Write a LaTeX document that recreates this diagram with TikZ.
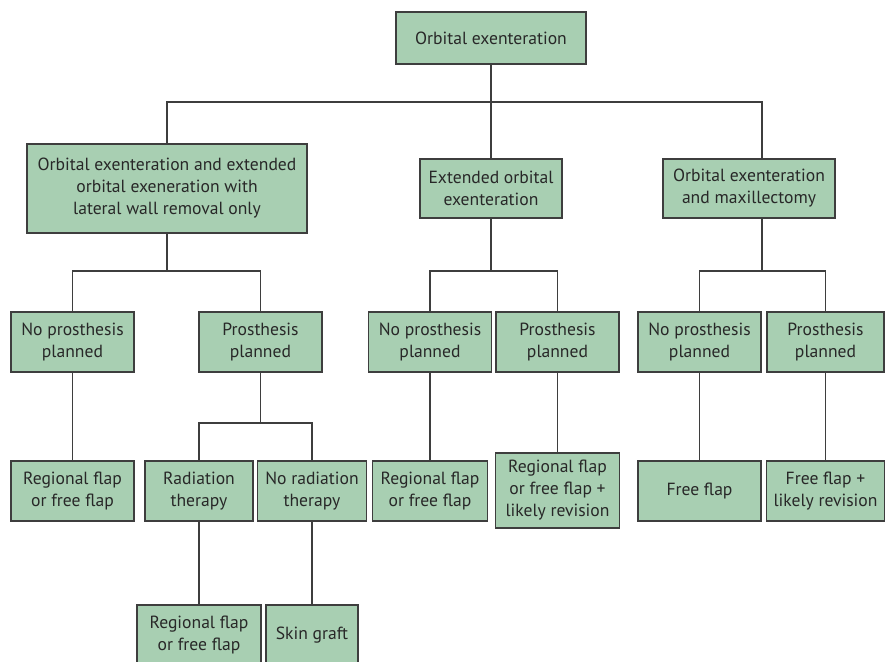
\documentclass[tikz,border=0pt]{standalone}
\usepackage{fontspec}
\setmainfont{PT Sans}
\usetikzlibrary{positioning}
\usepackage{xcolor}

\definecolor{boxgreen}{RGB}{168,207,178}
\definecolor{edgegray}{RGB}{62,62,62}
\definecolor{textgray}{RGB}{40,40,40}

\begin{document}
\begin{tikzpicture}[x=1pt,y=-1pt,
		box/.style={draw=edgegray, line width=1.6pt, fill=boxgreen, align=center, inner sep=0pt,
			text=textgray, font=\fontsize{17.6}{22}\selectfont},
		link/.style={draw=edgegray, line width=1.6pt}]
		\useasboundingbox (0,0) rectangle (885,661);

		% Top of the tree
		\node[box, minimum width=190, minimum height=52] (root) at (491,38) {Orbital exenteration};

		% Type of resection
		\node[box, minimum width=280, minimum height=89] (ext) at (167,188.5) {Orbital exenteration and extended\\orbital exeneration with\\lateral wall removal only};
		\node[box, minimum width=142, minimum height=59] (eoe) at (491,188.5) {Extended orbital\\exenteration};
		\node[box, minimum width=172, minimum height=59] (max) at (749,188.5) {Orbital exenteration\\and maxillectomy};

		% Prosthesis or not
		\node[box, minimum width=123, minimum height=60] (extNo) at (72.5,342) {No prosthesis\\planned};
		\node[box, minimum width=123, minimum height=60] (extYes) at (260.5,342) {Prosthesis\\planned};
		\node[box, minimum width=123, minimum height=60] (eoeNo) at (430,342) {No prosthesis\\planned};
		\node[box, minimum width=123, minimum height=60] (eoeYes) at (557.5,342) {Prosthesis\\planned};
		\node[box, minimum width=123, minimum height=60] (maxNo) at (699.5,342) {No prosthesis\\planned};
		\node[box, minimum width=117, minimum height=60] (maxYes) at (825.5,342) {Prosthesis\\planned};

		% Reconstruction
		\node[box, minimum width=123, minimum height=60] (extNoFlap) at (72.5,491) {Regional flap\\or free flap};
		\node[box, minimum width=108, minimum height=60] (radTx) at (199,491) {Radiation\\therapy};
		\node[box, minimum width=109, minimum height=60] (noRad) at (312,491) {No radiation\\therapy};
		\node[box, minimum width=115, minimum height=60] (eoeNoFlap) at (430,491) {Regional flap\\or free flap};
		\node[box, minimum width=124, minimum height=75] (eoeRev) at (557.5,490.5) {Regional flap\\or free flap +\\likely revision};
		\node[box, minimum width=123, minimum height=60] (maxFree) at (699.5,491) {Free flap};
		\node[box, minimum width=118, minimum height=60] (maxRev) at (825.5,491) {Free flap +\\likely revision};

		\node[box, minimum width=124, minimum height=60] (radFlap) at (199,635) {Regional flap\\or free flap};
		\node[box, minimum width=92, minimum height=60] (skin) at (312,635) {Skin graft};

		% Connectors
		\draw[link] (root.south) -- (eoe.north);
		\draw[link] (ext.north) |- (root.south |- 0,102) -| ([xshift=13pt]max.north);

		\draw[link] (ext.south) -- ++(0,37) coordinate (busA);
		\draw[link] (extNo.north) |- (busA) -| (extYes.north);
		\draw[link] (eoe.south) -- ++(0,52) coordinate (busB);
		\draw[link] (eoeNo.north) |- (busB) -| (eoeYes.north);
		\draw[link] ([xshift=13pt]max.south) -- ++(0,52) coordinate (busC);
		\draw[link] (maxNo.north) |- (busC) -| (maxYes.north);

		\draw[link] (extNo.south) -- (extNoFlap.north);
		\draw[link] (extYes.south) -- ++(0,50) coordinate (busD);
		\draw[link] (radTx.north) |- (busD) -| (noRad.north);
		\draw[link] (eoeNo.south) -- (eoeNoFlap.north);
		\draw[link] (eoeYes.south) -- (eoeRev.north);
		\draw[link] (maxNo.south) -- (maxFree.north);
		\draw[link] (maxYes.south) -- (maxRev.north);

		\draw[link] (radTx.south) -- (radFlap.north);
		\draw[link] (noRad.south) -- (skin.north);
	\end{tikzpicture}
\end{document}
